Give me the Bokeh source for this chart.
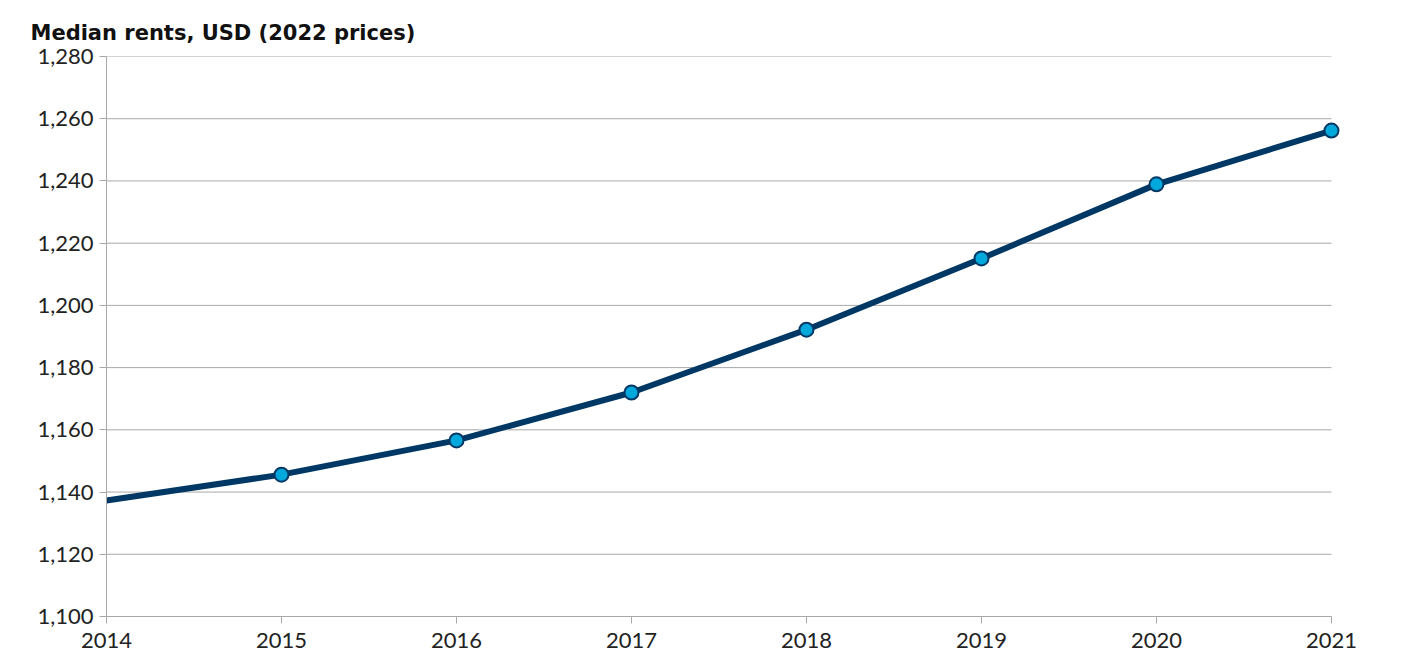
from bokeh.plotting import figure
from bokeh.models import Range1d, NumeralTickFormatter, FixedTicker
from bokeh.embed import file_html
from bokeh.resources import INLINE

title_text = "Median rents, USD (2022 prices)"
years = [2014, 2015, 2016, 2017, 2018, 2019, 2020, 2021]
rents = [1137.3, 1145.6, 1156.6, 1172.0, 1192.2, 1215.1, 1238.9, 1256.2]
marker_years = years[1:]
marker_rents = rents[1:]
y_ticks = [1100, 1120, 1140, 1160, 1180, 1200, 1220, 1240, 1260, 1280]

p = figure(width=1385, height=655, output_backend="svg", toolbar_location=None,
           x_range=Range1d(2014, 2021.063), y_range=Range1d(1100, 1280),
           min_border_left=106, min_border_right=43, min_border_top=56, min_border_bottom=39)

p.title.text = title_text
p.title.text_font = "DejaVu Sans"
p.title.text_font_size = "21px"
p.title.text_font_style = "bold"
p.title.text_color = "#111111"
p.title.align = "left"
p.title.offset = -76
p.title.standoff = 23

p.outline_line_color = None
p.xgrid.grid_line_color = None
p.ygrid.grid_line_color = None

# horizontal gridlines limited to the data span
p.segment(x0=[years[0]] * len(y_ticks), x1=[years[-1]] * len(y_ticks),
          y0=y_ticks, y1=y_ticks, line_color="#a8a8a8", line_width=1)

p.xaxis.ticker = FixedTicker(ticks=years)
p.yaxis.ticker = FixedTicker(ticks=y_ticks)
p.xaxis.bounds = (years[0], years[-1])
p.yaxis.formatter = NumeralTickFormatter(format="0,0")
for ax in (p.xaxis, p.yaxis):
    ax.axis_line_color = "#a8a8a8"
    ax.major_tick_line_color = "#a8a8a8"
    ax.major_tick_out = 7
    ax.major_tick_in = 0
    ax.minor_tick_line_color = None
    ax.major_label_text_font = "Lato"
    ax.major_label_text_font_size = "22px"
    ax.major_label_text_color = "#222222"
p.yaxis.major_label_standoff = 6
p.xaxis.major_label_standoff = 9

p.line(years, rents, line_color="#003865", line_width=6, line_cap="round")
p.scatter(marker_years, marker_rents, size=14, fill_color="#00a8dc",
          line_color="#003865", line_width=2)

open("out.html", "w").write(file_html(p, INLINE))
